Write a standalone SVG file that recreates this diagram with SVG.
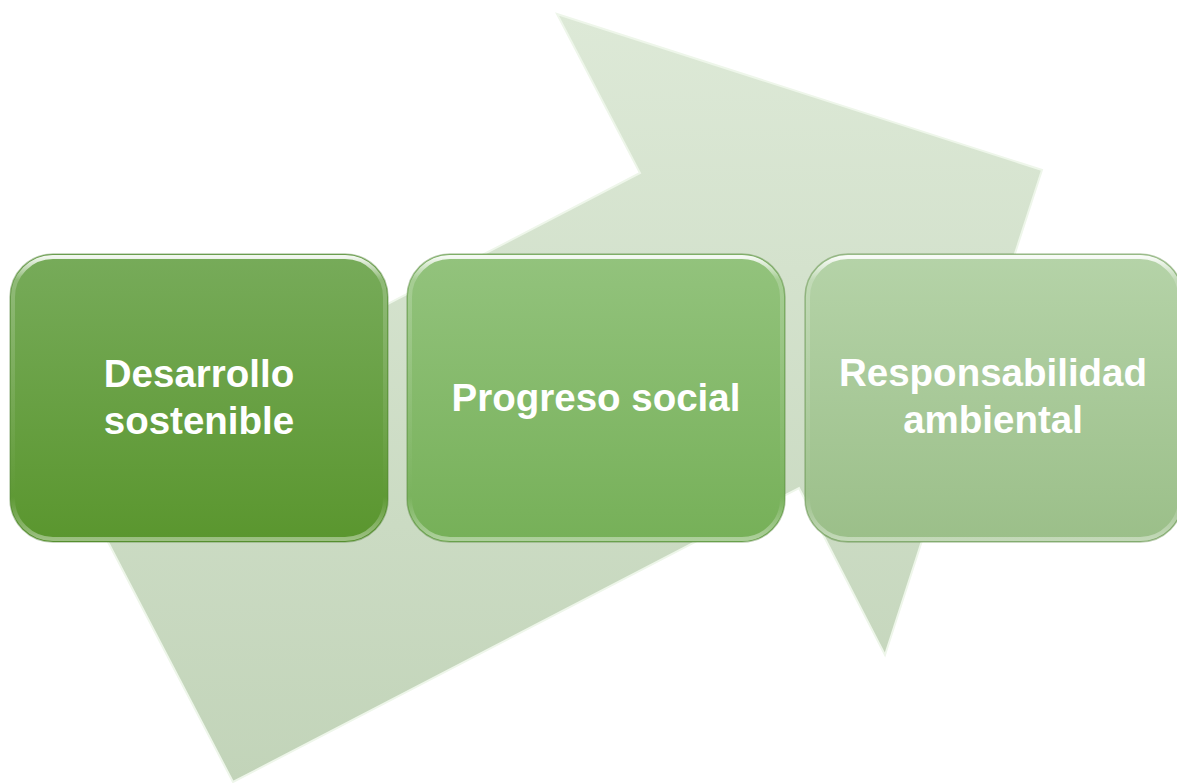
<svg xmlns="http://www.w3.org/2000/svg" width="1177" height="783" viewBox="0 0 1177 783">
  <defs>
    <linearGradient id="arrowGrad" x1="0" y1="0" x2="0" y2="1">
      <stop offset="0" stop-color="#dde9d7"/>
      <stop offset="1" stop-color="#c2d4b9"/>
    </linearGradient>
    <linearGradient id="g1" x1="0" y1="0" x2="0" y2="1">
      <stop offset="0" stop-color="#77ab5a"/>
      <stop offset="1" stop-color="#5a962e"/>
    </linearGradient>
    <linearGradient id="g2" x1="0" y1="0" x2="0" y2="1">
      <stop offset="0" stop-color="#93c37d"/>
      <stop offset="1" stop-color="#76b058"/>
    </linearGradient>
    <linearGradient id="g3" x1="0" y1="0" x2="0" y2="1">
      <stop offset="0" stop-color="#b5d3a8"/>
      <stop offset="1" stop-color="#9bbf89"/>
    </linearGradient>
    <linearGradient id="hl" x1="0" y1="0" x2="0" y2="1">
      <stop offset="0" stop-color="#ffffff" stop-opacity="0.9"/>
      <stop offset="0.08" stop-color="#ffffff" stop-opacity="0.2"/>
      <stop offset="0.85" stop-color="#ffffff" stop-opacity="0"/>
      <stop offset="1" stop-color="#ffffff" stop-opacity="0.4"/>
    </linearGradient>
  </defs>
  <style>
    .box-edge { fill: none; stroke: #4e7f33; stroke-opacity: 0.4; stroke-width: 1.5; }
    .box-hl { fill: none; stroke: url(#hl); stroke-width: 4; }
    .lbl { font-family: "Liberation Sans", Arial, sans-serif; font-weight: bold; font-size: 38.5px; fill: #ffffff; text-anchor: middle; }
  </style>
  <rect width="1177" height="783" fill="#ffffff"/>
  <g id="arrow">
    <polygon points="70,469 640,173 557,14 1042,170 885,655 799,488 233,782" fill="url(#arrowGrad)" stroke="#eef6ea" stroke-width="2" stroke-linejoin="miter"/>
  </g>
  <g id="connectors"></g>
  <g id="node1">
    <rect x="10" y="254" width="378" height="288" rx="43" ry="43" fill="url(#g1)"/>
    <rect x="13" y="257" width="372" height="282" rx="40" ry="40" class="box-hl"/>
    <rect x="10" y="254" width="378" height="288" rx="43" ry="43" class="box-edge"/>
    <text class="lbl" x="199" y="387">Desarrollo</text>
    <text class="lbl" x="199" y="434">sostenible</text>
  </g>
  <g id="node2">
    <rect x="407" y="254" width="378" height="288" rx="43" ry="43" fill="url(#g2)"/>
    <rect x="410" y="257" width="372" height="282" rx="40" ry="40" class="box-hl"/>
    <rect x="407" y="254" width="378" height="288" rx="43" ry="43" class="box-edge"/>
    <text class="lbl" x="596" y="411">Progreso social</text>
  </g>
  <g id="node3">
    <rect x="805" y="254" width="378" height="288" rx="43" ry="43" fill="url(#g3)"/>
    <rect x="808" y="257" width="372" height="282" rx="40" ry="40" class="box-hl"/>
    <rect x="805" y="254" width="378" height="288" rx="43" ry="43" class="box-edge"/>
    <text class="lbl" x="993" y="386">Responsabilidad</text>
    <text class="lbl" x="993" y="433">ambiental</text>
  </g>
</svg>
